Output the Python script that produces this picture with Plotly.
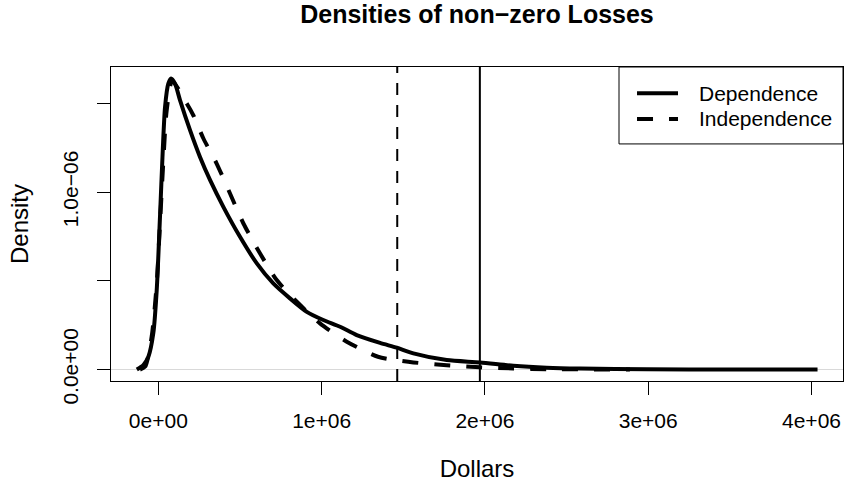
import plotly.graph_objects as go

# ---- data ----
dep_x = [-132000, -92000, -61000, -31000, -10000, 10000, 27000, 41000, 61000, 78000,
         102000, 133000, 194000, 255000, 317000, 398000, 500000, 603000, 704000, 806000,
         909000, 1010000, 1113000, 1215000, 1358000, 1460000, 1562000, 1766000, 1970000,
         2174000, 2378000, 2582000, 2991000, 3500000, 4037000]
dep_y = [0.0, 0.025, 0.072, 0.204, 0.448, 0.86, 1.236, 1.48, 1.611, 1.64,
         1.611, 1.517, 1.349, 1.198, 1.067, 0.917, 0.748, 0.598, 0.485, 0.401,
         0.325, 0.279, 0.241, 0.194, 0.150, 0.123, 0.091, 0.053, 0.040,
         0.021, 0.010, 0.005, 0.001, 0.0003, 0.0]

ind_x = [-112000, -81000, -41000, -10000, 10000, 31000, 51000, 85000, 174000, 214000,
         276000, 357000, 439000, 521000, 623000, 725000, 848000, 990000, 1154000,
         1345000, 1460000, 1562000, 1766000, 1970000, 2174000, 2378000, 2888000]
ind_y = [0.0, 0.016, 0.185, 0.485, 0.823, 1.18, 1.46, 1.625, 1.499, 1.433,
         1.302, 1.161, 0.992, 0.823, 0.654, 0.504, 0.382, 0.260, 0.157,
         0.072, 0.052, 0.040, 0.024, 0.012, 0.006, 0.002, 0.0]

scale = 1e-6  # densities above are in units of 1e-6
dep_y = [v * scale for v in dep_y]
ind_y = [v * scale for v in ind_y]

dep_line = 1969000   # vertical marker, Dependence
ind_line = 1463000   # vertical marker, Independence

series_names = ["Dependence", "Independence"]
x_ticks = [0, 1000000, 2000000, 3000000, 4000000]
x_tick_text = ["0e+00", "1e+06", "2e+06", "3e+06", "4e+06"]
y_ticks = [0, 0.5e-6, 1.0e-6, 1.5e-6]
y_tick_text = ["0.0e+00", "", "1.0e\u221206", ""]

FONT = "Liberation Sans, Arial, Helvetica, sans-serif"
CURVE_DASH = "16px,16px"

fig = go.Figure()
fig.add_trace(go.Scatter(x=dep_x, y=dep_y, mode="lines", name=series_names[0],
                         showlegend=False,
                         line=dict(color="black", width=4, shape="spline", smoothing=0.7)))
fig.add_trace(go.Scatter(x=ind_x, y=ind_y, mode="lines", name=series_names[1],
                         showlegend=False,
                         line=dict(color="black", width=4, dash=CURVE_DASH,
                                   shape="spline", smoothing=0.7)))

fig.add_shape(type="line", xref="x", yref="paper", x0=ind_line, x1=ind_line, y0=0, y1=1,
              line=dict(color="black", width=2, dash="12px,10px"))
fig.add_shape(type="line", xref="x", yref="paper", x0=dep_line, x1=dep_line, y0=0, y1=1,
              line=dict(color="black", width=2))

# ---- legend box (top-right, R style) in paper coordinates ----
fig.add_shape(type="rect", xref="paper", yref="paper", x0=0.694, x1=1.0, y0=0.755, y1=1.0,
              line=dict(color="black", width=1), fillcolor="white", layer="above")
legend_rows = [(0.9162, None), (0.8344, CURVE_DASH)]
for name, (yy, dash) in zip(series_names, legend_rows):
    fig.add_shape(type="line", xref="paper", yref="paper", x0=0.7186, x1=0.7746,
                  y0=yy, y1=yy, layer="above",
                  line=dict(color="black", width=4, dash=dash if dash else "solid"))
    fig.add_annotation(text=name, xref="paper", yref="paper", x=0.8005, y=yy,
                       xanchor="left", yanchor="middle", showarrow=False,
                       font=dict(family=FONT, size=21, color="black"))

axis_common = dict(showline=True, linecolor="black", linewidth=1, mirror=True,
                   ticks="outside", ticklen=13, tickwidth=1, tickcolor="black",
                   showgrid=False, automargin=False,
                   tickfont=dict(family=FONT, size=21, color="black"))

fig.update_layout(
    template="none",
    width=844, height=484,
    margin=dict(l=111, r=1, t=67, b=103, autoexpand=False),
    paper_bgcolor="white", plot_bgcolor="white",
    font=dict(family=FONT, color="black"),
    title=dict(text="<b>Densities of non\u2212zero Losses</b>", x=0.5, xref="paper",
               xanchor="center", y=1 - 14 / 484, yref="container", yanchor="middle",
               font=dict(family=FONT, size=25, color="black")),
    xaxis=dict(range=[-290000, 4193000], tickvals=x_ticks, ticktext=x_tick_text,
               zeroline=False, ticklabelstandoff=8,
               title=dict(text="Dollars", font=dict(family=FONT, size=24), standoff=28),
               **axis_common),
    yaxis=dict(range=[-0.0648e-6, 1.705e-6], tickvals=y_ticks, ticktext=y_tick_text,
               tickangle=-90, zeroline=True, zerolinecolor="#d9d9d9", zerolinewidth=1,
               ticklabelstandoff=11,
               title=dict(text="Density", font=dict(family=FONT, size=24), standoff=23),
               **axis_common),
    showlegend=False,
)

fig.write_html("out.html", config={"displayModeBar": False},
               post_script="document.body.style.margin='0px';")
